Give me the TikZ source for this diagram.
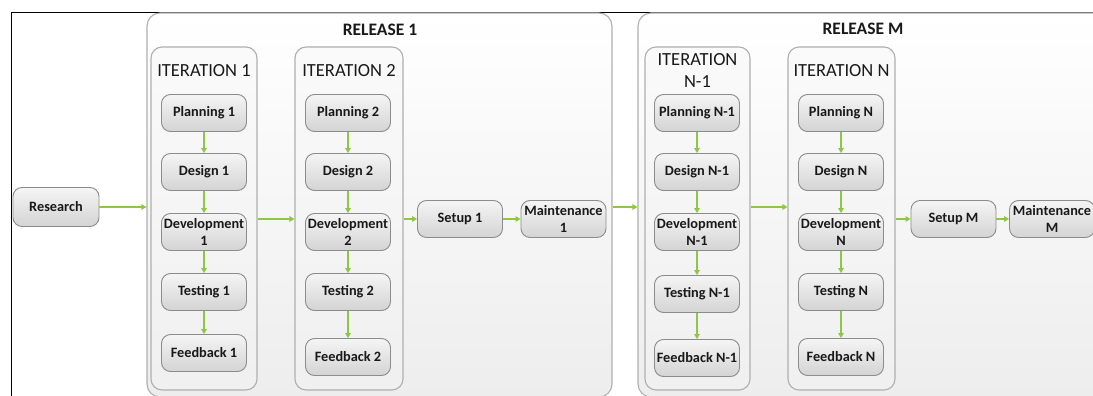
\documentclass[tikz,border=0pt]{standalone}
\usepackage{fontspec}
\setmainfont{Carlito}
\usetikzlibrary{arrows.meta}
\definecolor{flowgreen}{RGB}{140,200,70}
\definecolor{boxedge}{RGB}{140,140,140}
\definecolor{paneledge}{RGB}{175,175,175}
\definecolor{inktext}{RGB}{25,25,25}

\tikzset{
  stepbox/.style={draw=boxedge, line width=0.9pt, rounded corners=9pt,
    top color=black!4, bottom color=black!17,
    minimum width=85pt, minimum height=37pt, align=center, inner sep=1pt,
    text=inktext, font=\fontsize{14.3}{16.5}\selectfont\bfseries},
  releasebox/.style={draw=paneledge, line width=1.1pt, rounded corners=13pt,
    top color=white, bottom color=black!7, inner sep=0pt},
  iterbox/.style={draw=paneledge, line width=1.1pt, rounded corners=11pt,
    top color=black!2, bottom color=black!6, inner sep=0pt},
  flow/.style={draw=flowgreen, line width=1.4pt, -{Triangle[width=5.5pt,length=5pt]}},
  reltitle/.style={text=inktext, font=\fontsize{17.5}{21}\selectfont\bfseries},
  itertitle/.style={text=inktext, align=center, font=\fontsize{18.5}{22}\selectfont},
}

\begin{document}
\begin{tikzpicture}[x=1pt,y=-1pt]
\useasboundingbox (0,0) rectangle (1093,396);
\clip (0,0) rectangle (1093,396);

% outer frame
\draw[line width=1.6pt] (11.5,402) -- (11.5,12.5) -- (1100,12.5);

% releases
\node[releasebox, minimum width=465pt, minimum height=384pt] (rel1) at (379.5,205) {};
\node[releasebox, minimum width=470pt, minimum height=384pt] (relM) at (873,205) {};
\node[reltitle] (rel1t) at (380,30) {RELEASE 1};
\node[reltitle] (relMt) at (863,29) {RELEASE M};

% iterations
\node[iterbox, minimum width=106pt, minimum height=343pt] (it1) at (204,218.5) {};
\node[iterbox, minimum width=108pt, minimum height=343pt] (it2) at (349,218.5) {};
\node[iterbox, minimum width=105pt, minimum height=343pt] (itA) at (697.5,218.5) {};
\node[iterbox, minimum width=107pt, minimum height=343pt] (itB) at (841.5,218.5) {};
\node[itertitle] (it1t) at (204,71) {ITERATION 1};
\node[itertitle] (it2t) at (349,71) {ITERATION 2};
\node[itertitle] (itAt) at (697.5,70.5) {ITERATION\\N-1};
\node[itertitle] (itBt) at (841.5,71) {ITERATION N};

% iteration 1
\node[stepbox] (p1) at (204,113) {Planning 1};
\node[stepbox] (d1) at (204,172) {Design 1};
\node[stepbox] (v1) at (204,232) {Development\\1};
\node[stepbox] (t1) at (204,292) {Testing 1};
\node[stepbox] (f1) at (204,353) {Feedback 1};

% iteration 2
\node[stepbox] (p2) at (348,113) {Planning 2};
\node[stepbox] (d2) at (348,172) {Design 2};
\node[stepbox] (v2) at (348,232) {Development\\2};
\node[stepbox] (t2) at (348,292) {Testing 2};
\node[stepbox] (f2) at (348,357) {Feedback 2};

% iteration N-1
\node[stepbox] (pA) at (697,113) {Planning N-1};
\node[stepbox] (dA) at (697,172) {Design N-1};
\node[stepbox] (vA) at (697,232) {Development\\N-1};
\node[stepbox] (tA) at (697,294) {Testing N-1};
\node[stepbox] (fA) at (697,358) {Feedback N-1};

% iteration N
\node[stepbox] (pB) at (841,113) {Planning N};
\node[stepbox] (dB) at (841,172) {Design N};
\node[stepbox] (vB) at (841,232) {Development\\N};
\node[stepbox] (tB) at (841,292) {Testing N};
\node[stepbox] (fB) at (841,357) {Feedback N};

% horizontal row
\node[stepbox, minimum width=86pt, minimum height=39pt] (res) at (56,207) {Research};
\node[stepbox] (s1) at (460,219) {Setup 1};
\node[stepbox] (m1) at (563.5,219) {Maintenance\\1};
\node[stepbox] (sM) at (953.5,219) {Setup M};
\node[stepbox] (mM) at (1052,219) {Maintenance\\M};

% vertical flows
\foreach \c in {1,2,A,B}{
  \draw[flow] (p\c) -- (d\c);
  \draw[flow] (d\c) -- (v\c);
  \draw[flow] (v\c) -- (t\c);
  \draw[flow] (t\c) -- (f\c);
}

% horizontal flows
\draw[flow] (res.east) -- (res.east -| rel1.west);
\draw[flow] (it1.east |- s1.west) -- (it2.west |- s1.west);
\draw[flow] (it2.east |- s1.west) -- (s1.west);
\draw[flow] (s1) -- (m1);
\draw[flow] (rel1.east |- res.east) -- (relM.west |- res.east);
\draw[flow] (itA.east |- res.east) -- (itB.west |- res.east);
\draw[flow] (itB.east |- sM.west) -- (sM.west);
\draw[flow] (sM) -- (mM);
\end{tikzpicture}
\end{document}
